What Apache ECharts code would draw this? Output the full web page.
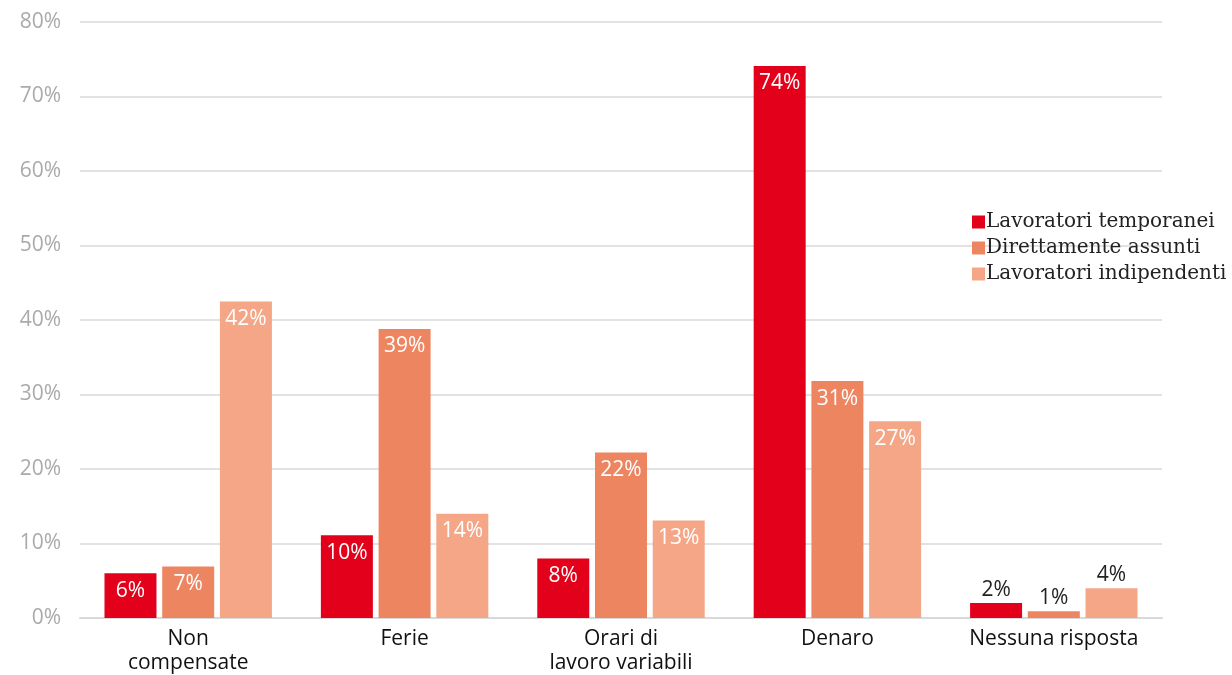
<!DOCTYPE html>
<html>
<head>
<meta charset="utf-8">
<script src="https://cdn.jsdelivr.net/npm/echarts@6/dist/echarts.min.js"></script>
<style>
  html, body { margin: 0; padding: 0; background: #fff; }
  #chart { width: 1232px; height: 675px; }
</style>
</head>
<body>
<div id="chart"></div>
<script>
const chart = echarts.init(document.getElementById('chart'));

const categories = ['Non\ncompensate', 'Ferie', 'Orari di\nlavoro variabili', 'Denaro', 'Nessuna risposta'];
const seriesNames = ['Lavoratori temporanei', 'Direttamente assunti', 'Lavoratori indipendenti'];
const colors = ['#e2001a', '#ee8561', '#f4a686'];

// bar heights (%)
const temporanei = [6.0, 11.1, 8.0, 74.1, 2.0];
const assunti = [6.9, 38.8, 22.2, 31.8, 0.9];
const indipendenti = [42.5, 14.0, 13.1, 26.4, 4.0];

// printed labels
const temporaneiLabels = ['6%', '10%', '8%', '74%', '2%'];
const assuntiLabels = ['7%', '39%', '22%', '31%', '1%'];
const indipendentiLabels = ['42%', '14%', '13%', '27%', '4%'];

const yTicks = [0, 10, 20, 30, 40, 50, 60, 70, 80];

const sansFont = "'Open Sans', sans-serif";

function buildData(values, labels) {
  return values.map((v, i) => {
    const item = { value: v, labelText: labels[i] };
    // last group: labels sit above the bars, in dark text
    if (i === values.length - 1) {
      item.label = { position: 'top', color: '#222', distance: 3 };
    }
    return item;
  });
}

const valueSets = [temporanei, assunti, indipendenti];
const labelSets = [temporaneiLabels, assuntiLabels, indipendentiLabels];

const series = seriesNames.map((name, s) => ({
  name: name,
  type: 'bar',
  barWidth: 52,
  barGap: '11%',
  data: buildData(valueSets[s], labelSets[s]),
  itemStyle: { color: colors[s] },
  label: {
    show: true,
    position: 'insideTop',
    distance: 7,
    color: '#fff',
    fontFamily: sansFont,
    fontSize: 21,
    formatter: (p) => p.data.labelText,
  },
}));

const option = {
  animation: false,
  color: colors,
  grid: { left: 80, right: 70, top: 22, bottom: 53 },
  legend: {
    orient: 'vertical',
    left: 967,
    top: 207,
    itemWidth: 13,
    itemHeight: 13,
    itemGap: 6,
    icon: 'rect',
    textStyle: {
      fontFamily: "'DejaVu Serif', serif",
      fontSize: 20,
      color: '#222',
      padding: [0, 0, 0, -4],
    },
    data: seriesNames,
  },
  xAxis: {
    type: 'category',
    data: categories,
    axisTick: { show: false },
    axisLine: { lineStyle: { color: '#d9d9d9', width: 2 } },
    axisLabel: {
      color: '#111',
      fontFamily: sansFont,
      fontSize: 21,
      lineHeight: 24,
      margin: 9,
      interval: 0,
    },
  },
  yAxis: {
    type: 'value',
    min: yTicks[0],
    max: yTicks[yTicks.length - 1],
    interval: 10,
    axisLine: { show: false },
    axisTick: { show: false },
    splitLine: { lineStyle: { color: '#d9d9d9', width: 1.5 } },
    axisLabel: {
      color: '#aaaaaa',
      fontFamily: sansFont,
      fontSize: 21,
      margin: 19,
      formatter: (v) => v + '%',
    },
  },
  series: series,
};

chart.setOption(option);
</script>
</body>
</html>
